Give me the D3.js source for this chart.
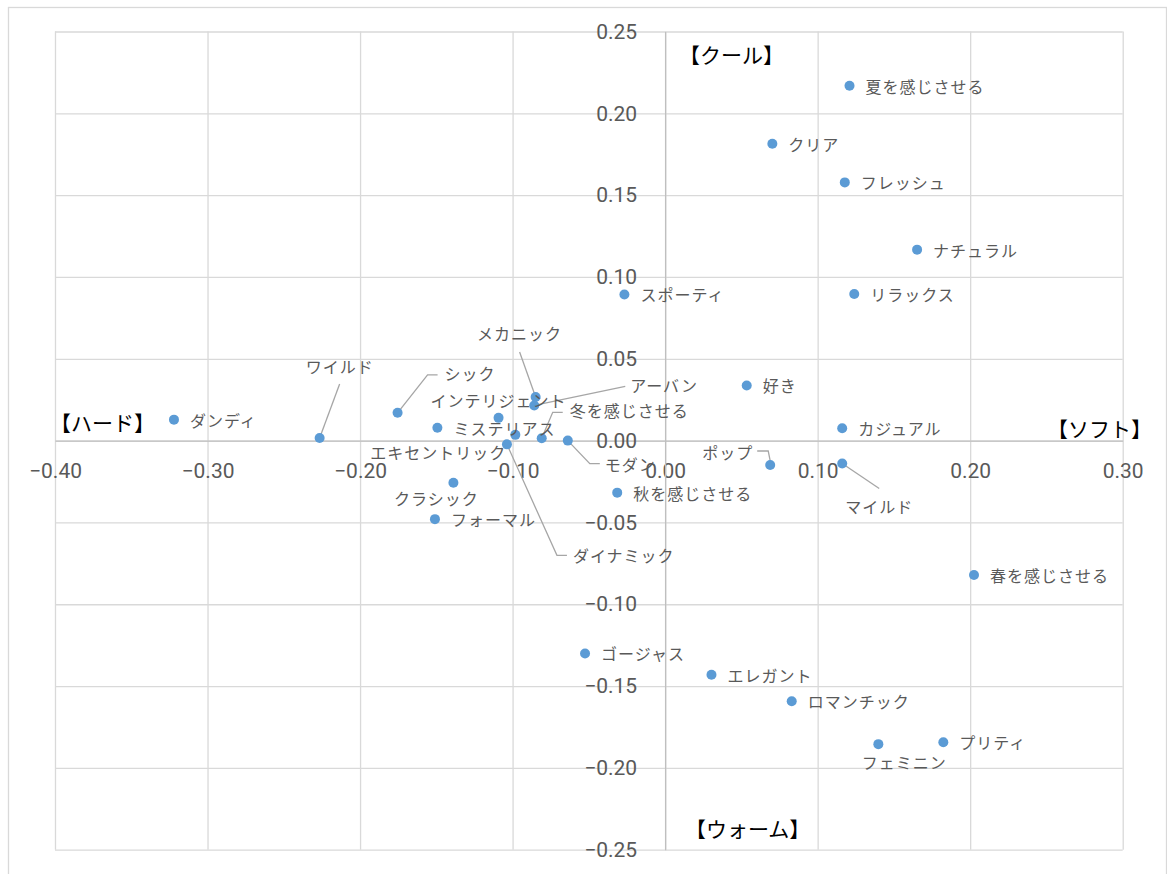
<!DOCTYPE html>
<html>
<head>
<meta charset="utf-8">
<script src="https://cdn.jsdelivr.net/npm/d3@7"></script>
<style>
  body { margin: 0; background: #fff; }
  svg { display: block; }
</style>
</head>
<body>
<svg id="chart"></svg>
<script>
// イメージワード（散布図）
const names = ["ダンディ", "ワイルド", "シック", "ミステリアス", "インテリジェント", "メカニック", "アーバン",
  "エキセントリック", "冬を感じさせる", "モダン", "ダイナミック", "クラシック", "フォーマル", "秋を感じさせる",
  "スポーティ", "夏を感じさせる", "クリア", "フレッシュ", "ナチュラル", "リラックス", "好き", "カジュアル",
  "ポップ", "マイルド", "春を感じさせる", "ゴージャス", "エレガント", "ロマンチック", "フェミニン", "プリティ"];
const xValues = [-0.322, -0.2265, -0.1754, -0.1493, -0.1092, -0.0849, -0.0858,
  -0.0982, -0.0809, -0.0638, -0.1037, -0.1388, -0.1509, -0.0314,
  -0.0267, 0.1209, 0.0703, 0.1178, 0.1652, 0.1240, 0.0535, 0.1161,
  0.0689, 0.1161, 0.2025, -0.0525, 0.0304, 0.0830, 0.1398, 0.1824];
const yValues = [0.0128, 0.0016, 0.0170, 0.0078, 0.0139, 0.0266, 0.0215,
  0.0035, 0.0014, 0.0000, -0.0023, -0.0258, -0.0480, -0.0318,
  0.0893, 0.2169, 0.1814, 0.1578, 0.1167, 0.0896, 0.0337, 0.0076,
  -0.0149, -0.0140, -0.0821, -0.1301, -0.1431, -0.1593, -0.1855, -0.1843];
const xTicks = [-0.4, -0.3, -0.2, -0.1, 0, 0.1, 0.2, 0.3];
const yTicks = [-0.25, -0.2, -0.15, -0.1, -0.05, 0, 0.05, 0.1, 0.15, 0.2, 0.25];
const axisNames = ["【クール】", "【ハード】", "【ソフト】", "【ウォーム】"];

// 手動で動かしたラベル（点からのずれ px）。ないものは右側に置く
const moved = {
  "ワイルド": { dx: 20, dy: -72, anchor: "middle", leader: [[0, 0], [20, -54]] },
  "シック": { dx: 47, dy: -40, anchor: "start", leader: [[0, 0], [30, -38], [40, -38]] },
  "メカニック": { dx: -16, dy: -64, anchor: "middle", leader: [[0, 0], [-16, -45]] },
  "アーバン": { dx: 96, dy: -20, anchor: "start", leader: [[0, 0], [91, -19]] },
  "インテリジェント": { dx: 0, dy: -18, anchor: "middle" },
  "冬を感じさせる": { dx: 28, dy: -28, anchor: "start", leader: [[0, 0], [11, -26], [21, -26]] },
  "エキセントリック": { dx: -77, dy: 17, anchor: "middle" },
  "モダン": { dx: 37, dy: 23, anchor: "start", leader: [[0, 0], [22, 23], [32, 23]] },
  "ダイナミック": { dx: 66, dy: 111, anchor: "start", leader: [[0, 0], [50, 111], [60, 111]] },
  "クラシック": { dx: -17, dy: 15, anchor: "middle" },
  "ポップ": { dx: -17, dy: -13, anchor: "end", leader: [[-13, -14], [-2, -14], [0, -4]] },
  "マイルド": { dx: 37, dy: 42, anchor: "middle", leader: [[0, 0], [37, 25]] },
  "フェミニン": { dx: 26, dy: 18, anchor: "middle" }
};

const width = 1167, height = 874;
const margin = { top: 31.5, right: 44.3, bottom: 24.3, left: 55 };
const w = width - margin.left - margin.right;
const h = height - margin.top - margin.bottom;

const svg = d3.select("#chart").attr("width", width).attr("height", height);

// 外枠
svg.append("rect")
  .attr("x", 8.5).attr("y", 7.5)
  .attr("width", 1158).attr("height", 880)
  .attr("fill", "none").attr("stroke", "#d9d9d9").attr("stroke-width", 1.3);

const g = svg.append("g").attr("transform", `translate(${margin.left},${margin.top})`);

const x = d3.scaleLinear().domain([-0.4, 0.3]).range([0, w]);
const y = d3.scaleLinear().domain([-0.25, 0.25]).range([h, 0]);

// グリッド
g.append("g")
  .attr("class", "grid")
  .attr("transform", `translate(0,${h})`)
  .call(d3.axisBottom(x).tickValues(xTicks).tickSize(-h).tickFormat(""))
  .call(s => s.select(".domain").remove());
g.append("g")
  .attr("class", "grid")
  .call(d3.axisLeft(y).tickValues(yTicks).tickSize(-w).tickFormat(""))
  .call(s => s.select(".domain").remove());
g.selectAll(".grid line").attr("stroke", "#d9d9d9").attr("stroke-width", 1.3);

// 軸（0 の位置で交差）
const fmt = d3.format(".2f");
const xAxis = g.append("g")
  .attr("transform", `translate(0,${y(0)})`)
  .call(d3.axisBottom(x).tickValues(xTicks).tickSize(0).tickPadding(22).tickFormat(fmt));
const yAxis = g.append("g")
  .attr("transform", `translate(${x(0)},0)`)
  .call(d3.axisLeft(y).tickValues(yTicks).tickSize(0).tickPadding(28).tickFormat(fmt));
[xAxis, yAxis].forEach(a => {
  a.select(".domain").attr("stroke", "#bfbfbf").attr("stroke-width", 1.3);
  a.selectAll("text")
    .attr("fill", "#595959")
    .style("font-family", "Roboto, 'Liberation Sans', sans-serif")
    .style("font-size", "21px");
});

// 点とラベル
const data = names.map((n, i) => ({ name: n, x: xValues[i], y: yValues[i] }));
const lineGen = d3.line();

const leaders = g.append("g");
data.filter(d => moved[d.name] && moved[d.name].leader).forEach(d => {
  const pts = moved[d.name].leader.map(p => [x(d.x) + p[0], y(d.y) + p[1]]);
  leaders.append("path")
    .attr("d", lineGen(pts))
    .attr("fill", "none")
    .attr("stroke", "#a6a6a6")
    .attr("stroke-width", 1.3);
});

g.append("g").selectAll("circle")
  .data(data)
  .join("circle")
  .attr("cx", d => x(d.x))
  .attr("cy", d => y(d.y))
  .attr("r", 5)
  .attr("fill", "#5b9bd5");

g.append("g").selectAll("text")
  .data(data)
  .join("text")
  .attr("x", d => x(d.x) + (moved[d.name] ? moved[d.name].dx : 16))
  .attr("y", d => y(d.y) + (moved[d.name] ? moved[d.name].dy : 0))
  .attr("text-anchor", d => moved[d.name] ? moved[d.name].anchor : "start")
  .attr("dominant-baseline", "central")
  .attr("fill", "#595959")
  .style("font-family", "'Noto Sans CJK JP', sans-serif")
  .style("font-size", "16px")
  .style("letter-spacing", "1px")
  .text(d => d.name);

// 象限の見出し
const heads = [
  { t: axisNames[0], x: 679, y: 54, a: "start" },
  { t: axisNames[1], x: 50, y: 422, a: "start" },
  { t: axisNames[2], x: 1152, y: 428, a: "end" },
  { t: axisNames[3], x: 685, y: 828, a: "start" }
];
svg.append("g").selectAll("text")
  .data(heads)
  .join("text")
  .attr("x", d => d.x)
  .attr("y", d => d.y)
  .attr("text-anchor", d => d.a)
  .attr("dominant-baseline", "central")
  .attr("fill", "#000")
  .style("font-family", "'Noto Sans CJK JP', sans-serif")
  .style("font-size", "21px")
  .text(d => d.t);
</script>
</body>
</html>
